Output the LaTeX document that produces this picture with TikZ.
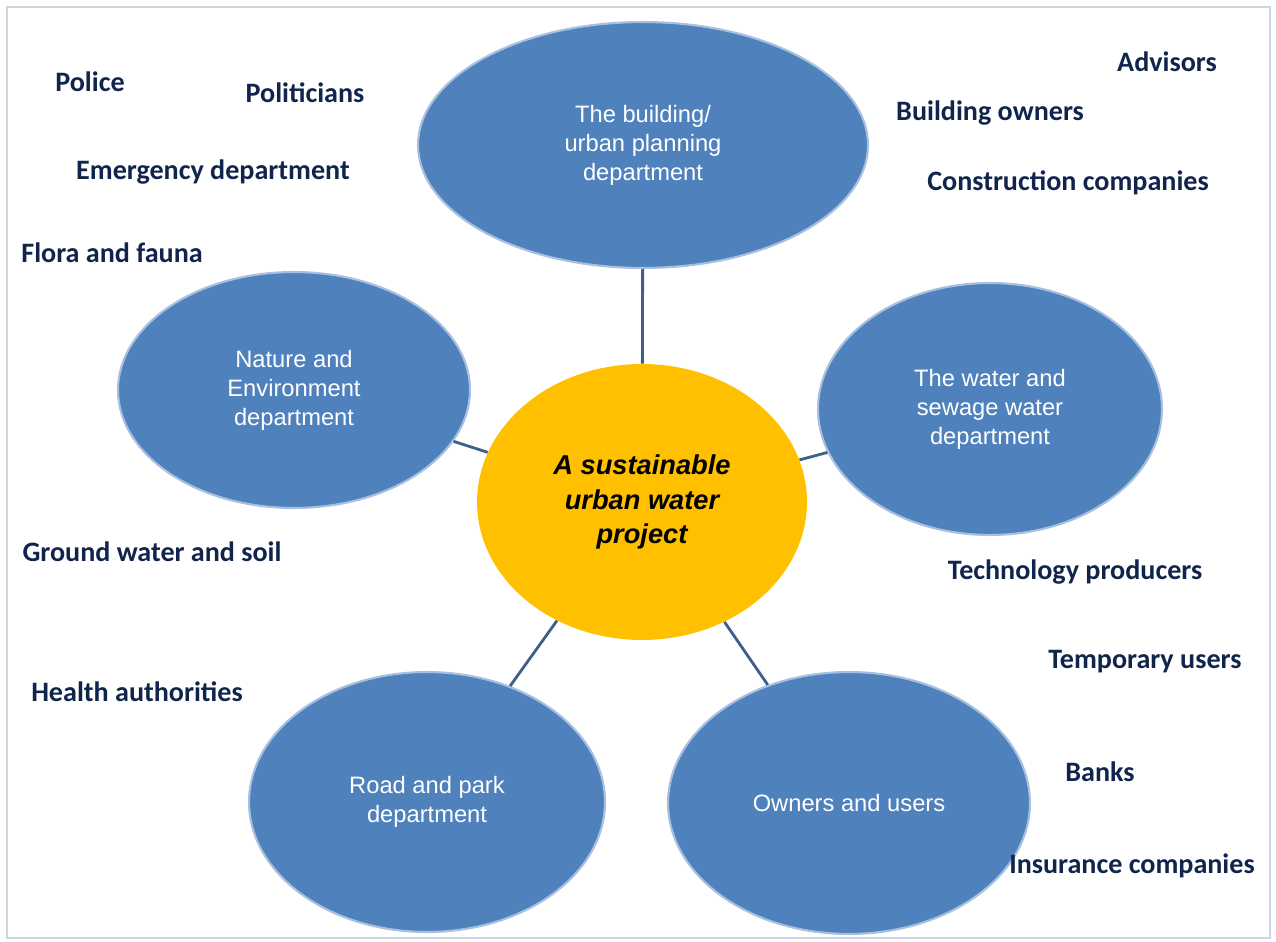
\documentclass[tikz,border=0pt]{standalone}
\usepackage{fontspec}
\setmainfont{Liberation Sans}
\newfontfamily\labelfont{Carlito}
\usetikzlibrary{shapes.geometric,positioning}
\definecolor{deptblue}{HTML}{4F81BD}
\definecolor{deptrim}{HTML}{A7C0E0}
\definecolor{projyellow}{HTML}{FFC000}
\definecolor{linkblue}{HTML}{3E5F8A}
\definecolor{actornavy}{HTML}{10244C}
\definecolor{framegrey}{HTML}{CDD5E0}
\tikzset{
  dept/.style={ellipse,fill=deptblue,draw=deptrim,line width=1.2pt,
    text=white,align=center,inner sep=0pt,
    font=\fontsize{13.5}{16.5}\selectfont},
  project/.style={ellipse,fill=projyellow,draw=none,align=center,inner sep=0pt,
    font=\fontsize{15.5}{19.5}\selectfont\bfseries\itshape},
  actor/.style={text=actornavy,inner sep=0pt,
    font=\labelfont\fontsize{16}{19}\selectfont\bfseries},
  link/.style={draw=linkblue,line width=1.6pt},
}
\begin{document}
\begin{tikzpicture}[x=0.02cm,y=-0.02cm]
  \useasboundingbox (0,0) rectangle (1276,942);
  \draw[framegrey,line width=1pt] (7,7) rectangle (1270,938);

  % center and departments
  \node[project,minimum width=6.6cm,minimum height=5.52cm] (P) at (642,502) {A sustainable\\urban water\\project};
  \node[dept,minimum width=9cm,minimum height=4.92cm] (build) at (643,145) {The building/\\urban planning\\department};
  \node[dept,minimum width=7.04cm,minimum height=4.72cm] (nature) at (294,390) {Nature and\\Environment\\department};
  \node[dept,minimum width=6.88cm,minimum height=5.04cm] (water) at (990,409) {The water and\\sewage water\\department};
  \node[dept,minimum width=7.12cm,minimum height=5.2cm] (road) at (427,802) {Road and park\\department};
  \node[dept,minimum width=7.24cm,minimum height=5.24cm] (owners) at (849,803) {Owners and users};

  \draw[link] (P) -- (build);
  \draw[link] (P) -- (nature);
  \draw[link] (P) -- (water);
  \draw[link] (P) -- (road);
  \draw[link] (P) -- (owners);

  % actors
  \node[actor] (police) at (90,82) {Police};
  \node[actor] (politicians) at (305,93) {Politicians};
  \node[actor] (emergency) at (213,172) {Emergency department};
  \node[actor] (flora) at (112,253) {Flora and fauna};
  \node[actor] (ground) at (152,552) {Ground water and soil};
  \node[actor] (health) at (137,692) {Health authorities};
  \node[actor] (advisors) at (1167,62) {Advisors};
  \node[actor] (bowners) at (990,113) {Building owners};
  \node[actor] (construction) at (1068,183) {Construction companies};
  \node[actor] (technology) at (1075,572) {Technology producers};
  \node[actor] (temporary) at (1145,662) {Temporary users};
  \node[actor] (banks) at (1100,772) {Banks};
  \node[actor] (insurance) at (1132,866) {Insurance companies};
\end{tikzpicture}
\end{document}
